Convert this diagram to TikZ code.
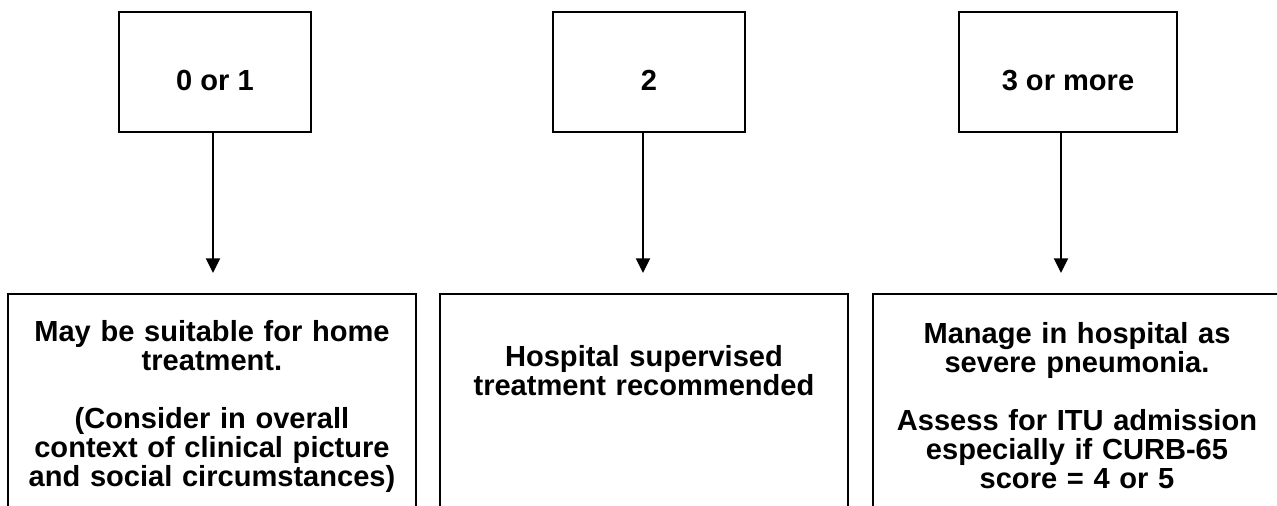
\documentclass[tikz,border=0pt]{standalone}
\usepackage{fontspec}
\setmainfont{Liberation Sans}
\usetikzlibrary{arrows.meta}

\begin{document}
\begin{tikzpicture}[x=0.75pt, y=-0.75pt,
    every node/.style={font=\fontsize{21.8}{21.8}\selectfont\bfseries},
    score/.style={draw, line width=1.5pt, anchor=north west, minimum height=90pt,
      text height=27.75pt, text depth=0pt, inner sep=0pt},
    outcome/.style={draw, line width=1.5pt, anchor=north west, text width=290pt,
      minimum width=306pt, inner xsep=8pt, inner ysep=0pt, align=center},
    flow/.style={line width=1.5pt, -{Triangle[length=11pt, width=10.5pt]}, shorten >=15pt}]
        \useasboundingbox (0,0) rectangle (1277,506);
        % Score boxes
        \node[score, minimum width=144pt] (low) at (118,11) {0 or 1};
        \node[score, minimum width=144pt] (mid) at (552,11) {2};
        \node[score, minimum width=163.5pt] (high) at (958,11) {3 or more};
        % What to do
        \node[outcome, text height=35.25pt, text depth=142.5pt] (home) at (7,293)
          {May be suitable for home\\ treatment.\\[21.8pt] (Consider in overall\\
           context of clinical picture\\ and social circumstances)};
        \node[outcome, text height=54pt, text depth=123.75pt] (hosp) at (439,293)
          {Hospital supervised\\ treatment recommended};
        \node[outcome, text height=36.75pt, text depth=141pt] (severe) at (872,293)
          {Manage in hospital as\\ severe pneumonia.\\[21.8pt] Assess for ITU admission\\
           especially if CURB-65\\ score = 4 or 5};
        % Arrows
        \coordinate (lowout) at ([xshift=-1.5pt]low.south);
        \coordinate (midout) at ([xshift=-4.5pt]mid.south);
        \coordinate (highout) at ([xshift=-5.25pt]high.south);
        \draw[flow] (lowout) -- (lowout |- home.north);
        \draw[flow] (midout) -- (midout |- hosp.north);
        \draw[flow] (highout) -- (highout |- severe.north);
      \end{tikzpicture}
\end{document}
